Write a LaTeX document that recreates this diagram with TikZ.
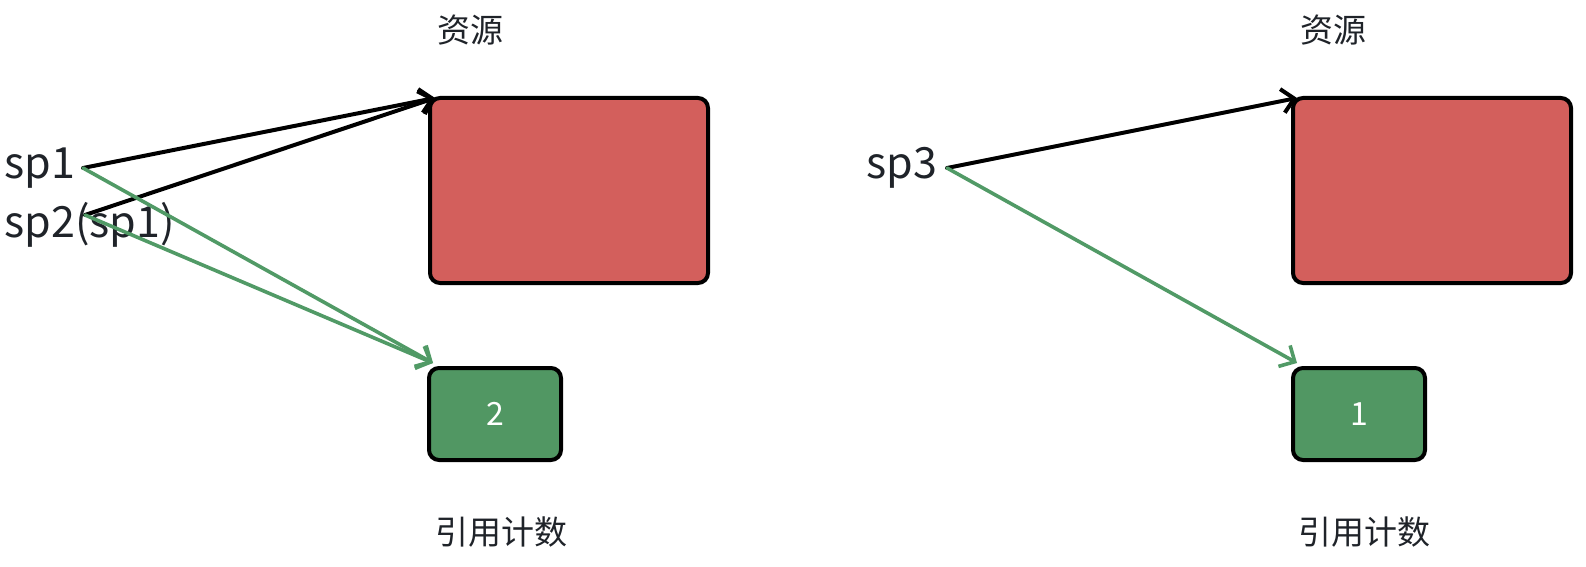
\documentclass[tikz,border=0pt]{standalone}
\usepackage{fontspec}
\setmainfont{Noto Sans CJK SC}
\usetikzlibrary{arrows.meta}
\definecolor{txt}{HTML}{1F2329}
\definecolor{resred}{HTML}{D35F5C}
\definecolor{cntgreen}{HTML}{519763}
\definecolor{lngreen}{HTML}{519A66}
\begin{document}
\begin{tikzpicture}[x=0.5pt,y=-0.5pt,
  resbox/.style={draw=black,line width=2pt,fill=resred,rounded corners=5pt,minimum width=139pt,minimum height=92.5pt,inner sep=0pt,outer sep=0pt},
  cntbox/.style={draw=black,line width=2pt,fill=cntgreen,rounded corners=5pt,minimum width=66pt,minimum height=46pt,inner sep=0pt,outer sep=0pt,text=white,font=\fontsize{16}{18}\selectfont},
  lbl/.style={text=txt,inner sep=0pt,font=\fontsize{16.5}{19}\selectfont},
  ptr/.style={text=txt,inner sep=0pt,anchor=base west,font=\fontsize{21.5}{24}\selectfont},
  blk/.style={draw=black,line width=2pt,line cap=round,-{Straight Barb[length=6pt,width=12pt]}},
  grn/.style={draw=lngreen,line width=1.8pt,line cap=round,-{Straight Barb[length=6pt,width=12pt]}}
]
\useasboundingbox (0,0) rectangle (1586,567);
% left group
\node[resbox] (res1) at (569,190.5) {};
\node[cntbox] (cnt1) at (495,414) {2};
\node[lbl] (t1) at (470,30) {资源};
\node[lbl] (c1) at (501,532) {引用计数};
\node[ptr] (sp1) at (4,178) {sp1};
\node[ptr] (sp2) at (4,237) {sp2(sp1)};
\coordinate (s1) at (83,168);
\coordinate (s2) at (85,215);
\coordinate (r1) at (435,98);
\coordinate (g1) at (433,363);
\draw[blk] (s1) -- (r1);
\draw[blk] (s2) -- (r1);
\draw[grn] (s1) -- (g1);
\draw[grn] (s2) -- (g1);
% right group
\node[resbox] (res2) at (1432,190.5) {};
\node[cntbox] (cnt2) at (1359,414) {1};
\node[lbl] (t2) at (1333,30) {资源};
\node[lbl] (c2) at (1364,532) {引用计数};
\node[ptr] (sp3) at (866,178) {sp3};
\coordinate (s3) at (947,168);
\coordinate (r2) at (1297,98);
\coordinate (g2) at (1297,363);
\draw[blk] (s3) -- (r2);
\draw[grn] (s3) -- (g2);
\end{tikzpicture}
\end{document}
